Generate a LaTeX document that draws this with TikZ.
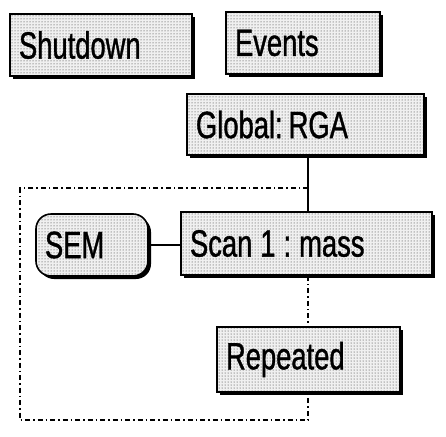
\documentclass[tikz,border=0pt]{standalone}
\usepackage{fontspec}
\newfontfamily\lbl[FakeStretch=0.72,FakeBold=1]{Liberation Sans}
\usetikzlibrary{patterns,shadows,calc}
\newcommand{\gapsp}{\hspace{8pt}}
\tikzset{
  box/.style={draw=black, line width=1.6pt, minimum height=62pt, inner xsep=9pt,
    align=left, font=\lbl\fontsize{38}{42}\selectfont,
    drop shadow={shadow xshift=3pt, shadow yshift=-3pt, fill=black, opacity=1},
    preaction={fill=gray!12}, pattern=dots, pattern color=black!85},
  link/.style={line width=1.4pt, draw=black},
  frame/.style={line width=1.4pt, draw=black, dash pattern=on 5pt off 3pt on 1.5pt off 3pt}
}
\begin{document}
\begin{tikzpicture}[x=1pt,y=-1pt]
\useasboundingbox (0,0) rectangle (446,436);
\node[box, text width=164pt] (shut) at (101,45) {Shutdown};
\node[box, text width=136pt] (events) at (303,43) {Events};
\node[box, text width=219pt, minimum height=61pt] (global) at (305.5,124.5) {Global:\hspace{6pt}RGA};
\node[box, text width=233pt, minimum height=63pt] (scan) at (306.5,243.5) {Scan\gapsp 1\gapsp :\gapsp mass};
\node[box, text width=94pt, rounded corners=15pt] (sem) at (92,245) {SEM};
\node[box, text width=165pt, minimum height=65pt] (rep) at (308.5,359.5) {Repeated};
\coordinate (tr) at (308,188);
\coordinate (tl) at (20,188);
\coordinate (bl) at (20,420);
\coordinate (br) at (308,420);
\draw[link] (global.south -| tr) -- (scan.north -| tr);
\draw[link] (sem.east) -- (sem.east -| scan.west);
\draw[frame] (tr) -- (tl) -- (bl) -- (br) -- (rep.south -| br);
\draw[frame] (scan.south -| tr) -- (rep.north -| tr);
\end{tikzpicture}
\end{document}
